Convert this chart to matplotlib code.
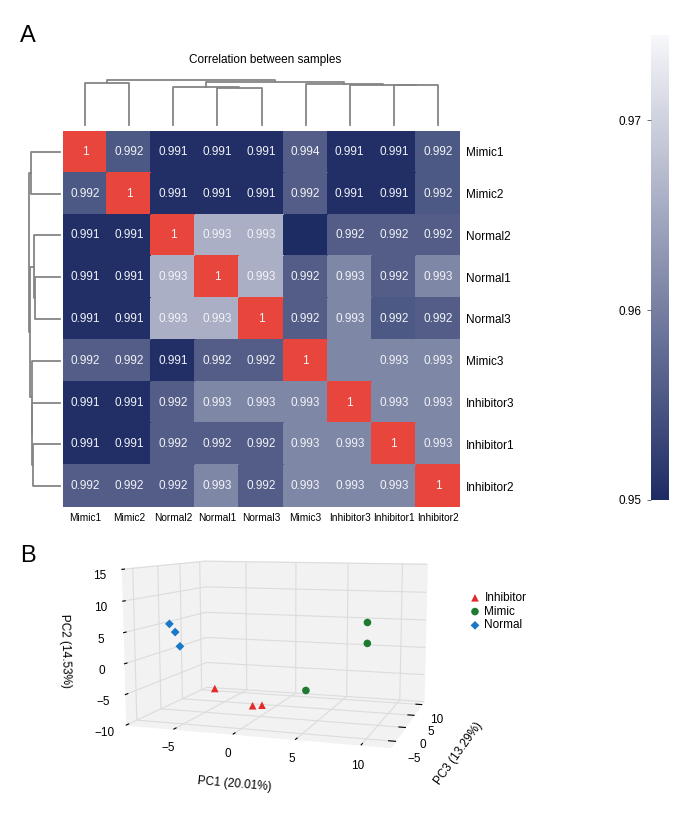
import numpy as np
import matplotlib
matplotlib.use('Agg')
from matplotlib import pyplot as plt
from matplotlib.colors import LinearSegmentedColormap, Normalize
from matplotlib.cm import ScalarMappable

plt.rcParams['font.family'] = ['Liberation Sans', 'DejaVu Sans']

W, H = 696, 840

samples = ['Mimic1', 'Mimic2', 'Normal2', 'Normal1', 'Normal3',
           'Mimic3', 'Inhibitor3', 'Inhibitor1', 'Inhibitor2']

# correlation values used for the colours (diagonal = 1)
corr = [
    [1, .9918, .9910, .9910, .9910, .9919, .9910, .9910, .9918],
    [.9918, 1, .9910, .9910, .9910, .9919, .9910, .9910, .9918],
    [.9910, .9910, 1, .9935, .9935, .9909, .9919, .9919, .9919],
    [.9910, .9910, .9935, 1, .9935, .9919, .9927, .9919, .9927],
    [.9910, .9910, .9935, .9935, 1, .9919, .9927, .9918, .9919],
    [.9919, .9919, .9910, .9919, .9919, 1, .9927, .9927, .9927],
    [.9910, .9910, .9919, .9927, .9927, .9927, 1, .9927, .9927],
    [.9910, .9910, .9919, .9919, .9919, .9927, .9927, 1, .9927],
    [.9919, .9919, .9919, .9927, .9919, .9927, .9927, .9927, 1],
]

# printed cell labels
labels = [
    ['1', '0.992', '0.991', '0.991', '0.991', '0.994', '0.991', '0.991', '0.992'],
    ['0.992', '1', '0.991', '0.991', '0.991', '0.992', '0.991', '0.991', '0.992'],
    ['0.991', '0.991', '1', '0.993', '0.993', '', '0.992', '0.992', '0.992'],
    ['0.991', '0.991', '0.993', '1', '0.993', '0.992', '0.993', '0.992', '0.993'],
    ['0.991', '0.991', '0.993', '0.993', '1', '0.992', '0.993', '0.992', '0.992'],
    ['0.992', '0.992', '0.991', '0.992', '0.992', '1', '', '0.993', '0.993'],
    ['0.991', '0.991', '0.992', '0.993', '0.993', '0.993', '1', '0.993', '0.993'],
    ['0.991', '0.991', '0.992', '0.992', '0.992', '0.993', '0.993', '1', '0.993'],
    ['0.992', '0.992', '0.992', '0.993', '0.992', '0.993', '0.993', '0.993', '1'],
]

# hierarchical clustering: (child a, child b, height); new cluster id = 9 + row
merges = [
    (0, 1, 0.927),
    (3, 4, 0.816),
    (2, 10, 0.838),
    (7, 8, 0.882),
    (6, 12, 0.889),
    (5, 13, 0.904),
    (11, 14, 0.962),
    (9, 15, 1.0),
]

cbar_ticks = [0.95, 0.96, 0.97]

# PCA scores
groups = ['Inhibitor', 'Mimic', 'Normal']
inhibitor_pc1 = [-2.6, 0.3, 1.1]
inhibitor_pc2 = [-4.2, -7.0, -6.8]
inhibitor_pc3 = [-4.0, -3.0, -3.0]
mimic_pc1 = [9.4, 9.6, 4.5]
mimic_pc2 = [7.0, 4.0, -4.3]
mimic_pc3 = [-2.0, -3.0, -2.0]
normal_pc1 = [-6.5, -6.0, -5.6]
normal_pc2 = [6.0, 4.7, 2.4]
normal_pc3 = [-4.0, -4.0, -4.0]


def box(x0, y0, x1, y1):
    # pixel box -> figure fraction rect
    return [x0 / W, 1 - y1 / H, (x1 - x0) / W, (y1 - y0) / H]


def draw_dendro(ax, orient):
    n = len(samples)
    pos = {i: i + 0.5 for i in range(n)}
    hgt = {i: 0.0 for i in range(n)}
    for k, (a, b, h) in enumerate(merges):
        xs = [pos[a], pos[a], pos[b], pos[b]]
        ys = [hgt[a], h, h, hgt[b]]
        if orient == 'top':
            ax.plot(xs, ys, color='#858585', lw=1.3, clip_on=False)
        else:
            ax.plot(ys, xs, color='#858585', lw=1.3, clip_on=False)
        pos[n + k] = (pos[a] + pos[b]) / 2
        hgt[n + k] = h
    ax.axis('off')


fig = plt.figure(figsize=(W / 100, H / 100), dpi=100)

base = LinearSegmentedColormap.from_list('navy', ['#1e2c64', '#f6f7fa'])
cmap = base.copy()
cmap.set_over('#e8453c')
norm = Normalize(0.99093, 0.99490)

FS = 8.5

# PCA 3D (drawn first, transparent, so the heatmap labels stay visible)
ax3 = fig.add_axes(box(40, 480, 520, 810), projection='3d')
ax3.set_facecolor('none')
styles = {
    'Inhibitor': dict(color='#e32b2b', marker='^'),
    'Mimic': dict(color='#1e7a33', marker='o'),
    'Normal': dict(color='#1a78c8', marker='D'),
}
coords = {
    'Inhibitor': (inhibitor_pc1, inhibitor_pc3, inhibitor_pc2),
    'Mimic': (mimic_pc1, mimic_pc3, mimic_pc2),
    'Normal': (normal_pc1, normal_pc3, normal_pc2),
}
for g in groups:
    x, y, z = coords[g]
    st = styles[g]
    ms = 30 if st['marker'] != 'D' else 20
    ax3.scatter(x, y, z, c=st['color'], marker=st['marker'], s=ms,
                depthshade=False, label=g, edgecolors='none')

ax3.set_xlim(-9.2, 12.2)
ax3.set_ylim(-7, 11.5)
ax3.set_zlim(-10, 15)
ax3.set_xticks([-5, 0, 5, 10])
ax3.set_yticks([-5, 0, 5, 10])
ax3.set_zticks([-10, -5, 0, 5, 10, 15])
ax3.set_proj_type('persp', focal_length=0.45)
ax3.view_init(elev=8, azim=-72)
ax3.set_box_aspect((1.72, 1.3, 1.0), zoom=1.03)
for axis in (ax3.xaxis, ax3.yaxis, ax3.zaxis):
    axis.set_pane_color((0.95, 0.95, 0.95, 1))
    axis.line.set_color((1, 1, 1, 0))
    axis._axinfo['grid'].update(color='#dcdcdc', linewidth=0.8)
    axis._axinfo['tick'].update(inward_factor=0.0, outward_factor=0.3)
ax3.zaxis.set_ticks_position('lower')
ax3.zaxis.set_label_position('lower')
ax3.tick_params(labelsize=FS, pad=0)
ax3.set_xlabel('PC1 (20.01%)', fontsize=FS, labelpad=6)
ax3.set_ylabel('PC3 (13.29%)', fontsize=FS, labelpad=2)
ax3.set_zlabel('PC2 (14.53%)', fontsize=FS, labelpad=0)

handles, names = ax3.get_legend_handles_labels()
fig.legend(handles, names, loc='upper left', bbox_to_anchor=(462 / W, 1 - 586 / H),
           frameon=False, fontsize=FS, handletextpad=0.2, labelspacing=0.15,
           borderpad=0, handlelength=1.2)

# heatmap
ax = fig.add_axes(box(63, 131, 460, 507))
data = np.array(corr)
ax.pcolormesh(data, cmap=cmap, norm=norm, edgecolors='face', linewidth=0.3)
ax.set_xlim(0, 9)
ax.set_ylim(9, 0)
for i in range(9):
    for j in range(9):
        ax.text(j + 0.5, i + 0.5, labels[i][j], ha='center', va='center',
                color='#f2f3f7', fontsize=FS)
ax.set_xticks(np.arange(9) + 0.5)
ax.set_xticklabels(samples, fontsize=7.3)
ax.set_yticks(np.arange(9) + 0.5)
ax.set_yticklabels(samples, fontsize=FS)
ax.yaxis.tick_right()
ax.tick_params(length=0, pad=4)
for s in ax.spines.values():
    s.set_visible(False)

axt = fig.add_axes(box(63, 80, 460, 125))
draw_dendro(axt, 'top')
axt.set_xlim(0, 9)
axt.set_ylim(0, 1)

axl = fig.add_axes(box(29, 131, 60, 507))
draw_dendro(axl, 'left')
axl.set_xlim(1, 0)
axl.set_ylim(9, 0)

fig.text(265 / W, 1 - 60 / H, 'Correlation between samples', ha='center',
         va='center', fontsize=FS)
fig.text(28 / W, 1 - 36 / H, 'A', ha='center', va='center', fontsize=17)
fig.text(28 / W, 1 - 556 / H, 'B', ha='center', va='center', fontsize=17)

# colorbar
cax = fig.add_axes(box(651, 35, 669, 500))
sm = ScalarMappable(norm=Normalize(0.95, 0.9745), cmap=base)
cb = fig.colorbar(sm, cax=cax, ticks=cbar_ticks)
cb.outline.set_visible(False)
cax.yaxis.set_ticks_position('left')
cax.tick_params(labelsize=FS, length=3, width=0.6, color='#555555')

fig.savefig('out.png', dpi=100)
